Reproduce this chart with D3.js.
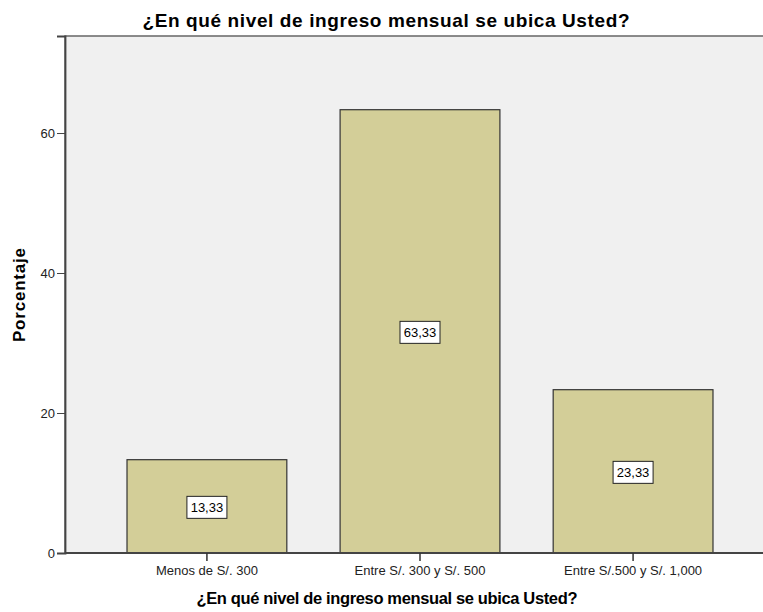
<html>
<head>
<meta charset="utf-8">
<script src="https://d3js.org/d3.v7.min.js"></script>
<style>
  body { margin: 0; background: #fff; }
  text { font-family: "Liberation Sans", Arial, sans-serif; }
</style>
</head>
<body>
<script>
var categories = ["Menos de S/. 300", "Entre S/. 300 y S/. 500", "Entre S/.500 y S/. 1,000"];
var values = [13.33, 63.33, 23.33];
var yTicks = [0, 20, 40, 60];
var titleText = "¿En qué nivel de ingreso mensual se ubica Usted?";

var width = 763, height = 612;
var plotLeft = 65, plotTop = 36, plotBottom = 553, plotRight = 775;

var svg = d3.select("body").append("svg")
    .attr("width", width)
    .attr("height", height);

var x = d3.scaleBand()
    .domain(categories)
    .range([plotLeft, plotRight])
    .paddingInner(0.25)
    .paddingOuter(0.291);

var y = d3.scaleLinear()
    .domain([0, 73.86])
    .range([plotBottom, plotTop]);

// plot background
svg.append("rect")
    .attr("x", plotLeft).attr("y", plotTop)
    .attr("width", plotRight - plotLeft).attr("height", plotBottom - plotTop)
    .attr("fill", "#f0f0f0")
    .attr("stroke", "#666")
    .attr("stroke-width", 1.5);

// bars
svg.selectAll("rect.bar").data(values).enter()
    .append("rect")
    .attr("class", "bar")
    .attr("x", function(d, i){ return x(categories[i]); })
    .attr("y", function(d){ return y(d); })
    .attr("width", x.bandwidth())
    .attr("height", function(d){ return y(0) - y(d); })
    .attr("fill", "#d3ce98")
    .attr("stroke", "#333")
    .attr("stroke-width", 1.2);

// value labels
var lab = svg.selectAll("g.lab").data(values).enter()
    .append("g")
    .attr("class", "lab")
    .attr("transform", function(d, i){
        return "translate(" + (x(categories[i]) + x.bandwidth() / 2) + "," + ((y(d) + y(0)) / 2 + 1) + ")";
    });
lab.append("rect")
    .attr("x", -20).attr("y", -11)
    .attr("width", 40).attr("height", 22)
    .attr("fill", "#fff")
    .attr("stroke", "#222")
    .attr("stroke-width", 1);
lab.append("text")
    .attr("text-anchor", "middle")
    .attr("dy", "0.36em")
    .attr("font-size", 13)
    .attr("fill", "#000")
    .text(function(d){ return d.toFixed(2).replace(".", ","); });

// y axis
var yAxis = svg.append("g")
    .attr("transform", "translate(" + plotLeft + ",0)")
    .call(d3.axisLeft(y).tickValues(yTicks).tickSize(8).tickPadding(2));
yAxis.select(".domain").attr("stroke", "#444").attr("stroke-width", 1.8);
yAxis.selectAll(".tick line").attr("stroke", "#444");
yAxis.selectAll(".tick text").attr("font-size", 13).attr("fill", "#222")
    .attr("font-family", "Liberation Sans, Arial, sans-serif");

// x axis
var xAxis = svg.append("g")
    .attr("transform", "translate(0," + plotBottom + ")")
    .call(d3.axisBottom(x).tickSize(8).tickSizeOuter(0).tickPadding(5));
xAxis.select(".domain").attr("stroke", "#444").attr("stroke-width", 1.8)
    .attr("d", "M" + plotLeft + ",0H" + width);
xAxis.selectAll(".tick line").attr("stroke", "#333").attr("stroke-width", 1.5);
xAxis.selectAll(".tick text").attr("font-size", 13).attr("fill", "#222")
    .attr("font-family", "Liberation Sans, Arial, sans-serif");

// titles
svg.append("text")
    .attr("x", 386).attr("y", 27)
    .attr("text-anchor", "middle")
    .attr("font-size", 19)
    .attr("font-weight", "bold")
    .attr("fill", "#000")
    .attr("textLength", 487)
    .text(titleText);

svg.append("text")
    .attr("x", 387).attr("y", 604)
    .attr("text-anchor", "middle")
    .attr("font-size", 16.5)
    .attr("font-weight", "bold")
    .attr("fill", "#000")
    .attr("textLength", 381)
    .text(titleText);

svg.append("text")
    .attr("transform", "translate(25,295) rotate(-90)")
    .attr("text-anchor", "middle")
    .attr("font-size", 17)
    .attr("font-weight", "bold")
    .attr("fill", "#000")
    .attr("textLength", 94)
    .text("Porcentaje");
</script>
</body>
</html>
